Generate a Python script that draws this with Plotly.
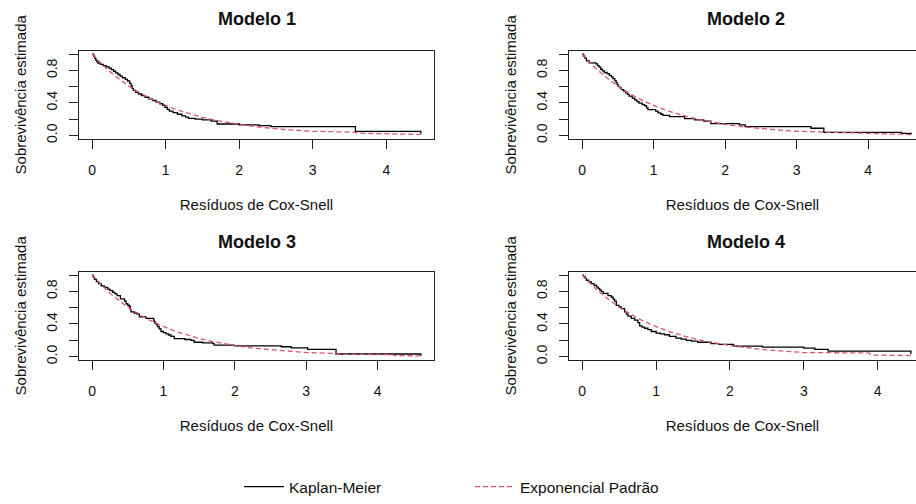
import plotly.graph_objects as go

W, H = 916, 504

# ---------------- data ----------------
titles = ["Modelo 1", "Modelo 2", "Modelo 3", "Modelo 4"]
x_label = "Resíduos de Cox-Snell"
y_label = "Sobrevivência estimada"
km_name = "Kaplan-Meier"
exp_name = "Exponencial Padrão"
x_tickvals = [0, 1, 2, 3, 4]
y_tickvals = [0.0, 0.2, 0.4, 0.6, 0.8, 1.0]
y_ticktext = ["0.0", "", "0.4", "", "0.8", ""]

# Kaplan-Meier step curves (time of step, survival after the step)
km1_t = [0, 0.02, 0.035, 0.05, 0.065, 0.08, 0.11, 0.15, 0.19, 0.23, 0.26, 0.29, 0.32, 0.35, 0.38, 0.41,
         0.45, 0.48, 0.51, 0.53, 0.545, 0.56, 0.59, 0.63, 0.67, 0.72, 0.77, 0.82, 0.87, 0.92, 0.96, 0.99,
         1.02, 1.05, 1.10, 1.16, 1.22, 1.27, 1.31, 1.40, 1.50, 1.62, 1.70, 2.00, 2.27, 2.43, 3.58, 4.47]
km1_s = [1, 0.975, 0.95, 0.925, 0.905, 0.89, 0.875, 0.86, 0.845, 0.83, 0.81, 0.79, 0.77, 0.75, 0.73, 0.71,
         0.69, 0.67, 0.64, 0.61, 0.58, 0.555, 0.53, 0.51, 0.49, 0.47, 0.45, 0.43, 0.41, 0.39, 0.37, 0.345,
         0.32, 0.30, 0.28, 0.26, 0.24, 0.225, 0.21, 0.20, 0.19, 0.175, 0.14, 0.13, 0.12, 0.107, 0.048, 0.02]

km2_t = [0, 0.02, 0.037, 0.06, 0.098, 0.19, 0.215, 0.237, 0.26, 0.284, 0.31, 0.349, 0.38, 0.409, 0.43, 0.456,
         0.475, 0.49, 0.502, 0.525, 0.549, 0.58, 0.609, 0.635, 0.656, 0.70, 0.735, 0.765, 0.795, 0.84, 0.874,
         0.90, 0.921, 1.028, 1.06, 1.10, 1.13, 1.223, 1.433, 1.572, 1.70, 1.80, 2.20, 2.28, 3.20, 3.38, 4.47, 4.60]
km2_s = [1, 0.975, 0.952, 0.92, 0.893, 0.88, 0.86, 0.841, 0.815, 0.794, 0.775, 0.762, 0.74, 0.722, 0.70, 0.675,
         0.65, 0.625, 0.603, 0.585, 0.563, 0.545, 0.524, 0.505, 0.484, 0.46, 0.437, 0.415, 0.397, 0.38, 0.365,
         0.34, 0.317, 0.30, 0.278, 0.26, 0.246, 0.23, 0.206, 0.19, 0.175, 0.145, 0.13, 0.108, 0.088, 0.036, 0.024, 0.01]

km3_t = [0, 0.015, 0.033, 0.06, 0.09, 0.126, 0.17, 0.219, 0.25, 0.289, 0.32, 0.35, 0.396, 0.455, 0.476, 0.50,
         0.522, 0.535, 0.545, 0.59, 0.63, 0.662, 0.755, 0.862, 0.87, 0.88, 0.90, 0.918, 0.94, 0.965, 1.0,
         1.035, 1.07, 1.105, 1.15, 1.30, 1.385, 1.43, 1.55, 1.69, 1.71, 1.99, 2.649, 2.789, 3.02, 3.418, 4.607]
km3_s = [1, 0.975, 0.948, 0.92, 0.895, 0.868, 0.85, 0.828, 0.81, 0.788, 0.77, 0.748, 0.708, 0.68, 0.648, 0.63,
         0.616, 0.58, 0.548, 0.535, 0.52, 0.488, 0.468, 0.448, 0.43, 0.408, 0.39, 0.368, 0.34, 0.308, 0.295,
         0.28, 0.265, 0.248, 0.22, 0.21, 0.2, 0.176, 0.168, 0.16, 0.14, 0.133, 0.121, 0.108, 0.089, 0.032, 0.012]

km4_t = [0, 0.02, 0.04, 0.058, 0.09, 0.126, 0.16, 0.193, 0.215, 0.238, 0.26, 0.283, 0.35, 0.395, 0.42, 0.44,
         0.463, 0.50, 0.53, 0.575, 0.60, 0.62, 0.665, 0.71, 0.755, 0.778, 0.81, 0.845, 0.89, 0.935, 1.002,
         1.06, 1.115, 1.18, 1.27, 1.34, 1.41, 1.48, 1.564, 1.744, 1.85, 2.05, 2.44, 3.0, 3.15, 3.33, 4.45]
km4_s = [1, 0.98, 0.96, 0.936, 0.915, 0.896, 0.876, 0.856, 0.836, 0.816, 0.796, 0.776, 0.748, 0.728, 0.705, 0.68,
         0.628, 0.61, 0.588, 0.548, 0.52, 0.496, 0.468, 0.448, 0.416, 0.376, 0.362, 0.348, 0.33, 0.308, 0.288,
         0.278, 0.268, 0.248, 0.228, 0.215, 0.2, 0.19, 0.176, 0.16, 0.15, 0.13, 0.116, 0.104, 0.088, 0.068, 0.028]

# Standard exponential survival curve
ex1_x = [0, 0.1, 0.2, 0.3, 0.4, 0.5, 0.6, 0.7, 0.8, 0.9, 1.0, 1.1, 1.2, 1.35, 1.5, 1.7, 1.9, 2.1, 2.27, 2.43,
         2.6, 3.0, 3.55, 3.62, 4.45, 4.47]
ex1_y = [1, 0.905, 0.819, 0.741, 0.670, 0.607, 0.549, 0.497, 0.449, 0.407, 0.368, 0.333, 0.301, 0.259, 0.223,
         0.183, 0.150, 0.122, 0.103, 0.088, 0.074, 0.050, 0.040, 0.027, 0.015, 0.011]
ex2_x = [0, 0.1, 0.2, 0.3, 0.4, 0.5, 0.6, 0.7, 0.8, 0.9, 1.0, 1.1, 1.2, 1.35, 1.5, 1.7, 1.9, 2.1, 2.28, 2.6,
         2.9, 3.2, 3.36, 3.40, 4.47, 4.60]
ex2_y = [1, 0.905, 0.819, 0.741, 0.670, 0.607, 0.549, 0.497, 0.449, 0.407, 0.368, 0.333, 0.301, 0.259, 0.223,
         0.183, 0.150, 0.122, 0.102, 0.074, 0.055, 0.045, 0.042, 0.033, 0.015, 0.010]
ex3_x = [0, 0.1, 0.2, 0.3, 0.4, 0.5, 0.6, 0.7, 0.8, 0.9, 1.0, 1.1, 1.2, 1.35, 1.5, 1.7, 1.9, 2.1, 2.3, 2.649,
         2.789, 3.02, 3.40, 3.45, 4.2, 4.25, 4.607]
ex3_y = [1, 0.905, 0.819, 0.741, 0.670, 0.607, 0.549, 0.497, 0.449, 0.407, 0.368, 0.333, 0.301, 0.259, 0.223,
         0.183, 0.150, 0.122, 0.100, 0.071, 0.061, 0.049, 0.040, 0.030, 0.024, 0.012, 0.010]
ex4_x = [0, 0.1, 0.2, 0.3, 0.4, 0.5, 0.6, 0.7, 0.8, 0.9, 1.0, 1.1, 1.2, 1.35, 1.5, 1.7, 1.9, 2.05, 2.44, 3.0,
         3.88, 3.92, 4.45]
ex4_y = [1, 0.905, 0.819, 0.741, 0.670, 0.607, 0.549, 0.497, 0.449, 0.407, 0.368, 0.333, 0.301, 0.259, 0.223,
         0.183, 0.150, 0.129, 0.087, 0.050, 0.045, 0.020, 0.012]

km_series = [(km1_t, km1_s), (km2_t, km2_s), (km3_t, km3_s), (km4_t, km4_s)]
ex_series = [(ex1_x, ex1_y), (ex2_x, ex2_y), (ex3_x, ex3_y), (ex4_x, ex4_y)]

# ---------------- layout geometry (pixels) ----------------
boxes = [  # x0, x1, ytop, ybottom
    (79, 434, 51.5, 140),
    (569, 916, 51.5, 140),
    (79, 434, 274.5, 363.5),
    (569, 916, 274.5, 363.5),
]
x_ranges = [[-0.179, 4.649], [-0.184, 4.669], [-0.184, 4.791], [-0.178, 4.519]]
y_range = [-0.04, 1.04]
title_centers = [(256.5, 19.5), (746, 19.5), (256.5, 244), (746, 244)]

FONT = "Liberation Sans, Arial, Helvetica, sans-serif"
TXT = "#111111"
AX = "#222222"
RED = "#DF536B"

fig = go.Figure()
for i in range(4):
    t, s = km_series[i]
    ex, ey = ex_series[i]
    xa = "x" if i == 0 else f"x{i+1}"
    ya = "y" if i == 0 else f"y{i+1}"
    fig.add_trace(go.Scatter(x=t, y=s, mode="lines", line=dict(color="black", width=1.3, shape="hv"),
                             name=km_name, legendgroup="km", showlegend=(i == 0),
                             xaxis=xa, yaxis=ya, hoverinfo="skip"))
    fig.add_trace(go.Scatter(x=ex, y=ey, mode="lines", line=dict(color=RED, width=1.3, dash="5px,3px"),
                             name=exp_name, legendgroup="exp", showlegend=(i == 0),
                             xaxis=xa, yaxis=ya, hoverinfo="skip"))

layout = dict(
    width=W, height=H,
    margin=dict(l=0, r=0, t=0, b=0),
    paper_bgcolor="white", plot_bgcolor="white",
    font=dict(family=FONT, color=TXT, size=14),
    showlegend=True,
    legend=dict(orientation="h", x=239 / W, xanchor="left", y=1 - 492 / H, yanchor="middle",
                font=dict(size=15.5, color=TXT, family=FONT), entrywidth=176, entrywidthmode="pixels",
                itemwidth=40, bgcolor="rgba(0,0,0,0)", traceorder="normal"),
    annotations=[],
)

for i in range(4):
    x0, x1, yt, yb = boxes[i]
    sfx = "" if i == 0 else str(i + 1)
    right_open = x1 >= W
    layout["xaxis" + sfx] = dict(
        domain=[x0 / W, min(x1 / W, 1.0)], range=x_ranges[i], anchor="y" + sfx,
        tickvals=x_tickvals, ticktext=[str(v) for v in x_tickvals],
        ticks="outside", ticklen=9, tickwidth=1.2, tickcolor=AX,
        showline=True, linecolor=AX, linewidth=1.2, mirror=True,
        showgrid=False, zeroline=False, tickfont=dict(size=14, color=TXT),
        ticklabelstandoff=9,
        title=dict(text=x_label, font=dict(size=15, color=TXT), standoff=22),
    )
    layout["yaxis" + sfx] = dict(
        domain=[1 - yb / H, 1 - yt / H], range=y_range, anchor="x" + sfx,
        tickvals=y_tickvals, ticktext=y_ticktext, tickangle=-90,
        ticks="outside", ticklen=9, tickwidth=1.2, tickcolor=AX,
        showline=True, linecolor=AX, linewidth=1.2, mirror=(not right_open),
        showgrid=False, zeroline=False, tickfont=dict(size=14, color=TXT),
        ticklabelstandoff=6,
        title=dict(text=y_label, font=dict(size=15, color=TXT), standoff=14),
    )
    cx, cy = title_centers[i]
    layout["annotations"].append(dict(
        text="<b>" + titles[i] + "</b>", x=cx / W, y=1 - cy / H, xref="paper", yref="paper",
        xanchor="center", yanchor="middle", showarrow=False,
        font=dict(size=18, color=TXT, family=FONT)))

fig.update_layout(**layout)
fig.write_html("out.html")
